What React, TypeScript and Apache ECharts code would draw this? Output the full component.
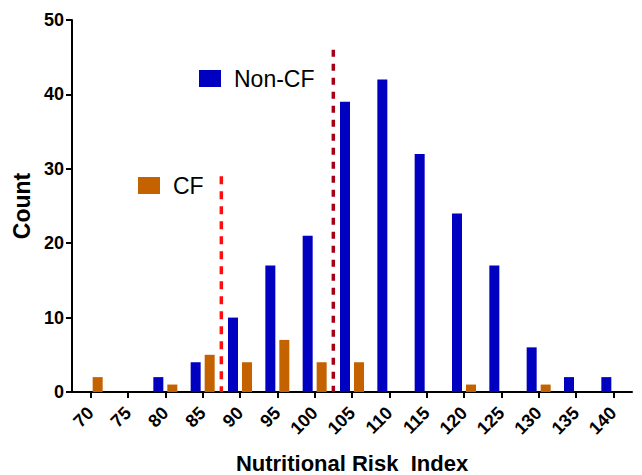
import React, { useEffect, useRef } from "react";
import * as echarts from "echarts";

const categories = ["70", "75", "80", "85", "90", "95", "100", "105", "110", "115", "120", "125", "130", "135", "140"];
const nonCF = [0, 0, 2, 4, 10, 17, 21, 39, 42, 32, 24, 17, 6, 2, 2];
const cf = [2, 0, 1, 5, 4, 7, 4, 4, 0, 0, 1, 0, 1, 0, 0];
const cutoffCF = [[87.5, 29], [87.5, 0]];
const cutoffNonCF = [[102.5, 46], [102.5, 0]];
const yTicks = [0, 10, 20, 30, 40, 50];

const FONT = 'Arial, "Liberation Sans", sans-serif';

export default function App() {
  const ref = useRef<HTMLDivElement>(null);
  useEffect(() => {
    if (!ref.current) return;
    const chart = echarts.init(ref.current, null, { renderer: "svg" });
    const axisLine = { show: true, lineStyle: { color: "#000", width: 2 } };
    chart.setOption({
      animation: false,
      textStyle: { fontFamily: FONT },
      grid: { left: 72, right: 10, top: 20, bottom: 83, containLabel: false, outerBoundsMode: "none" },
      legend: [
        {
          data: ["Non-CF"],
          left: 199,
          top: 67,
          padding: 0,
          itemWidth: 22,
          itemHeight: 17,
          icon: "rect",
          selectedMode: false,
          textStyle: { fontSize: 23, color: "#000", fontFamily: FONT, padding: [0, 0, 0, 8] },
        },
        {
          data: ["CF"],
          left: 138,
          top: 174,
          padding: 0,
          itemWidth: 22,
          itemHeight: 17,
          icon: "rect",
          selectedMode: false,
          textStyle: { fontSize: 23, color: "#000", fontFamily: FONT, padding: [0, 0, 0, 8] },
        },
      ],
      xAxis: [
        {
          type: "category",
          data: categories,
          boundaryGap: true,
          axisLine,
          axisTick: { show: true, alignWithLabel: true, length: 6, lineStyle: { color: "#000", width: 2 } },
          axisLabel: { rotate: 45, fontSize: 18, fontWeight: "bold", color: "#000", margin: 18, fontFamily: FONT },
          name: "Nutritional Risk  Index",
          nameLocation: "middle",
          nameGap: 60,
          nameMoveOverlap: false,
          nameTextStyle: { fontSize: 22, lineHeight: 22, fontWeight: "bold", color: "#000", fontFamily: FONT },
        },
        {
          type: "value",
          min: 67.5,
          max: 142.5,
          show: false,
        },
      ],
      yAxis: {
        type: "value",
        min: yTicks[0],
        max: yTicks[yTicks.length - 1],
        interval: 10,
        axisLine,
        axisTick: { show: true, length: 6, lineStyle: { color: "#000", width: 2 } },
        splitLine: { show: false },
        axisLabel: { fontSize: 18, fontWeight: "bold", color: "#000", margin: 8, fontFamily: FONT },
        name: "Count",
        nameLocation: "middle",
        nameGap: 33,
        nameRotate: 90,
        nameTextStyle: { fontSize: 23, fontWeight: "bold", color: "#000", fontFamily: FONT },
      },
      series: [
        {
          name: "Non-CF",
          type: "bar",
          data: nonCF,
          barWidth: 10,
          barGap: "40%",
          itemStyle: { color: "#0000C0" },
        },
        {
          name: "CF",
          type: "bar",
          data: cf,
          barWidth: 10,
          barGap: "40%",
          itemStyle: { color: "#C46200" },
        },
        {
          name: "cutoffCF",
          type: "line",
          xAxisIndex: 1,
          data: cutoffCF,
          symbol: "none",
          lineStyle: { color: "#FF0D0D", width: 3.5, type: [8, 7] },
          z: 5,
        },
        {
          name: "cutoffNonCF",
          type: "line",
          xAxisIndex: 1,
          data: cutoffNonCF,
          symbol: "none",
          lineStyle: { color: "#A50015", width: 3.5, type: [7, 7] },
          z: 5,
        },
      ],
    });
    return () => chart.dispose();
  }, []);
  return <div ref={ref} style={{ position: "absolute", left: 0, top: 0, width: 642, height: 475 }} />;
}
